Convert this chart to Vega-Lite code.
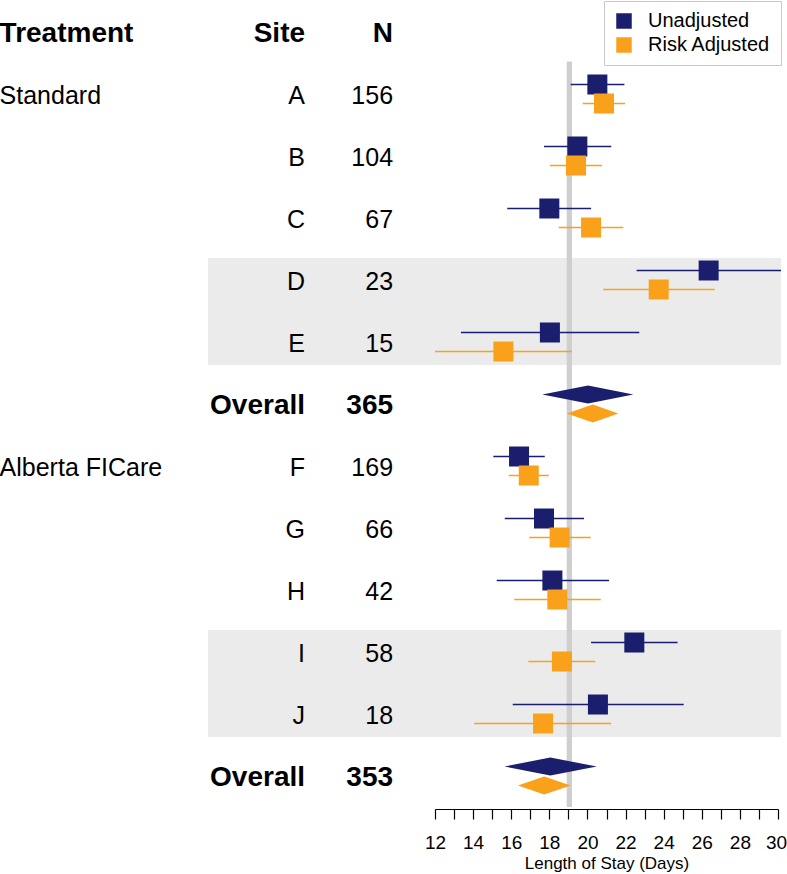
{
  "$schema": "https://vega.github.io/schema/vega-lite/v6.json",
  "width": 343,
  "height": 809,
  "autosize": {"type": "none"},
  "padding": {"left": 435, "top": 0, "right": 9, "bottom": 65},
  "background": "white",
  "config": {
    "view": {"stroke": null},
    "font": "Liberation Sans",
    "axisX": {"tickSize": 10, "tickColor": "black", "tickWidth": 1.2, "domainColor": "black", "domainWidth": 1.2,
              "labelFontSize": 19, "labelFont": "Liberation Sans", "labelColor": "black", "labelPadding": 14,
              "labelFlush": false, "labelOverlap": false, "grid": false,
              "titleFontSize": 17, "titleFont": "Liberation Sans", "titleFontWeight": "normal", "titleColor": "black", "titlePadding": 3}
  },
  "datasets": {
    "table": [
      {"row": 0, "treatment": "Treatment", "site": "Site", "n": "N", "kind": "head"},
      {"row": 1, "treatment": "Standard", "site": "A", "n": "156", "kind": "site"},
      {"row": 2, "treatment": "", "site": "B", "n": "104", "kind": "site"},
      {"row": 3, "treatment": "", "site": "C", "n": "67", "kind": "site"},
      {"row": 4, "treatment": "", "site": "D", "n": "23", "kind": "site"},
      {"row": 5, "treatment": "", "site": "E", "n": "15", "kind": "site"},
      {"row": 6, "treatment": "", "site": "Overall", "n": "365", "kind": "total"},
      {"row": 7, "treatment": "Alberta FICare", "site": "F", "n": "169", "kind": "site"},
      {"row": 8, "treatment": "", "site": "G", "n": "66", "kind": "site"},
      {"row": 9, "treatment": "", "site": "H", "n": "42", "kind": "site"},
      {"row": 10, "treatment": "", "site": "I", "n": "58", "kind": "site"},
      {"row": 11, "treatment": "", "site": "J", "n": "18", "kind": "site"},
      {"row": 12, "treatment": "", "site": "Overall", "n": "353", "kind": "total"}
    ],
    "est": [
      {"row": 1, "site": "A", "type": "Unadjusted", "est": 20.52, "lo": 19.12, "hi": 21.94},
      {"row": 1, "site": "A", "type": "Risk Adjusted", "est": 20.87, "lo": 19.75, "hi": 21.97},
      {"row": 2, "site": "B", "type": "Unadjusted", "est": 19.47, "lo": 17.72, "hi": 21.25},
      {"row": 2, "site": "B", "type": "Risk Adjusted", "est": 19.40, "lo": 18.03, "hi": 20.76},
      {"row": 3, "site": "C", "type": "Unadjusted", "est": 18.00, "lo": 15.79, "hi": 20.19},
      {"row": 3, "site": "C", "type": "Risk Adjusted", "est": 20.19, "lo": 18.49, "hi": 21.88},
      {"row": 4, "site": "D", "type": "Unadjusted", "est": 26.36, "lo": 22.58, "hi": 30.16},
      {"row": 4, "site": "D", "type": "Risk Adjusted", "est": 23.74, "lo": 20.83, "hi": 26.68},
      {"row": 5, "site": "E", "type": "Unadjusted", "est": 18.03, "lo": 13.36, "hi": 22.72},
      {"row": 5, "site": "E", "type": "Risk Adjusted", "est": 15.59, "lo": 12.00, "hi": 19.17},
      {"row": 7, "site": "F", "type": "Unadjusted", "est": 16.41, "lo": 15.06, "hi": 17.76},
      {"row": 7, "site": "F", "type": "Risk Adjusted", "est": 16.92, "lo": 15.87, "hi": 17.97},
      {"row": 8, "site": "G", "type": "Unadjusted", "est": 17.72, "lo": 15.66, "hi": 19.82},
      {"row": 8, "site": "G", "type": "Risk Adjusted", "est": 18.54, "lo": 16.95, "hi": 20.17},
      {"row": 9, "site": "H", "type": "Unadjusted", "est": 18.16, "lo": 15.24, "hi": 21.13},
      {"row": 9, "site": "H", "type": "Risk Adjusted", "est": 18.42, "lo": 16.16, "hi": 20.70},
      {"row": 10, "site": "I", "type": "Unadjusted", "est": 22.46, "lo": 20.19, "hi": 24.73},
      {"row": 10, "site": "I", "type": "Risk Adjusted", "est": 18.66, "lo": 16.90, "hi": 20.41},
      {"row": 11, "site": "J", "type": "Unadjusted", "est": 20.55, "lo": 16.08, "hi": 25.05},
      {"row": 11, "site": "J", "type": "Risk Adjusted", "est": 17.67, "lo": 14.06, "hi": 21.24}
    ],
    "overall": [
      {"row": 6, "group": "Standard", "type": "Unadjusted", "lo": 17.63, "est": 20.03, "hi": 22.41},
      {"row": 6, "group": "Standard", "type": "Risk Adjusted", "lo": 18.91, "est": 20.28, "hi": 21.62},
      {"row": 12, "group": "Alberta FICare", "type": "Unadjusted", "lo": 15.64, "est": 18.05, "hi": 20.49},
      {"row": 12, "group": "Alberta FICare", "type": "Risk Adjusted", "lo": 16.35, "est": 17.73, "hi": 19.12}
    ],
    "bands": [
      {"from": 4, "to": 5},
      {"from": 10, "to": 11}
    ]
  },
  "layer": [
    {
      "data": {"name": "bands"},
      "mark": {"type": "rect", "color": "#ebebeb", "yOffset": -22, "y2Offset": 23},
      "encoding": {
        "x": {"datum": 0.09, "type": "quantitative",
              "scale": {"domain": [12, 30], "nice": false, "zero": false},
              "axis": {"values": [12, 13, 14, 15, 16, 17, 18, 19, 20, 21, 22, 23, 24, 25, 26, 27, 28, 29, 30], "labelExpr": "datum.value % 2 === 0 ? datum.label : ''", "labelOffset": {"condition": {"test": "datum.value === 30", "value": -2}, "value": 0}, "title": "Length of Stay (Days)"}},
        "x2": {"datum": 30.16},
        "y": {"field": "from", "type": "quantitative", "axis": null,
              "scale": {"domain": [-0.516, 12.532], "reverse": true, "nice": false, "zero": false}},
        "y2": {"field": "to"}
      }
    },
    {
      "data": {"name": "bands"},
      "mark": {"type": "rule", "color": "#cfcfcf", "strokeWidth": 5},
      "encoding": {
        "x": {"datum": 19.05, "type": "quantitative",
              "axis": {"values": [12, 13, 14, 15, 16, 17, 18, 19, 20, 21, 22, 23, 24, 25, 26, 27, 28, 29, 30], "labelExpr": "datum.value % 2 === 0 ? datum.label : ''", "labelOffset": {"condition": {"test": "datum.value === 30", "value": -2}, "value": 0}, "title": "Length of Stay (Days)"}},
        "y": {"datum": 0.48, "type": "quantitative", "axis": null},
        "y2": {"datum": 12.5}
      }
    },
    {
      "data": {"name": "table"},
      "transform": [{"filter": "datum.kind === 'site' && datum.treatment !== ''"}],
      "mark": {"type": "text", "align": "left", "baseline": "middle", "fontSize": 25, "font": "Liberation Sans", "dy": 2, "color": "black"},
      "encoding": {
        "x": {"datum": -10.85, "type": "quantitative",
              "axis": {"values": [12, 13, 14, 15, 16, 17, 18, 19, 20, 21, 22, 23, 24, 25, 26, 27, 28, 29, 30], "labelExpr": "datum.value % 2 === 0 ? datum.label : ''", "labelOffset": {"condition": {"test": "datum.value === 30", "value": -2}, "value": 0}, "title": "Length of Stay (Days)"}},
        "y": {"field": "row", "type": "quantitative", "axis": null},
        "text": {"field": "treatment", "type": "nominal"}
      }
    },
    {
      "data": {"name": "table"},
      "transform": [{"filter": "datum.kind === 'head'"}],
      "mark": {"type": "text", "align": "left", "baseline": "middle", "fontSize": 28, "fontWeight": "bold", "font": "Liberation Sans", "dy": 2, "color": "black"},
      "encoding": {
        "x": {"datum": -10.85, "type": "quantitative",
              "axis": {"values": [12, 13, 14, 15, 16, 17, 18, 19, 20, 21, 22, 23, 24, 25, 26, 27, 28, 29, 30], "labelExpr": "datum.value % 2 === 0 ? datum.label : ''", "labelOffset": {"condition": {"test": "datum.value === 30", "value": -2}, "value": 0}, "title": "Length of Stay (Days)"}},
        "y": {"field": "row", "type": "quantitative", "axis": null},
        "text": {"field": "treatment", "type": "nominal"}
      }
    },
    {
      "data": {"name": "table"},
      "transform": [{"filter": "datum.kind === 'site'"}],
      "mark": {"type": "text", "align": "right", "baseline": "middle", "fontSize": 25, "font": "Liberation Sans", "dy": 2, "color": "black"},
      "encoding": {
        "x": {"datum": 5.18, "type": "quantitative",
              "axis": {"values": [12, 13, 14, 15, 16, 17, 18, 19, 20, 21, 22, 23, 24, 25, 26, 27, 28, 29, 30], "labelExpr": "datum.value % 2 === 0 ? datum.label : ''", "labelOffset": {"condition": {"test": "datum.value === 30", "value": -2}, "value": 0}, "title": "Length of Stay (Days)"}},
        "y": {"field": "row", "type": "quantitative", "axis": null},
        "text": {"field": "site", "type": "nominal"}
      }
    },
    {
      "data": {"name": "table"},
      "transform": [{"filter": "datum.kind !== 'site'"}],
      "mark": {"type": "text", "align": "right", "baseline": "middle", "fontSize": 28, "fontWeight": "bold", "font": "Liberation Sans", "dy": 2, "color": "black"},
      "encoding": {
        "x": {"datum": 5.18, "type": "quantitative",
              "axis": {"values": [12, 13, 14, 15, 16, 17, 18, 19, 20, 21, 22, 23, 24, 25, 26, 27, 28, 29, 30], "labelExpr": "datum.value % 2 === 0 ? datum.label : ''", "labelOffset": {"condition": {"test": "datum.value === 30", "value": -2}, "value": 0}, "title": "Length of Stay (Days)"}},
        "y": {"field": "row", "type": "quantitative", "axis": null},
        "text": {"field": "site", "type": "nominal"}
      }
    },
    {
      "data": {"name": "table"},
      "transform": [{"filter": "datum.kind === 'site'"}],
      "mark": {"type": "text", "align": "right", "baseline": "middle", "fontSize": 25, "font": "Liberation Sans", "dy": 2, "color": "black"},
      "encoding": {
        "x": {"datum": 9.80, "type": "quantitative",
              "axis": {"values": [12, 13, 14, 15, 16, 17, 18, 19, 20, 21, 22, 23, 24, 25, 26, 27, 28, 29, 30], "labelExpr": "datum.value % 2 === 0 ? datum.label : ''", "labelOffset": {"condition": {"test": "datum.value === 30", "value": -2}, "value": 0}, "title": "Length of Stay (Days)"}},
        "y": {"field": "row", "type": "quantitative", "axis": null},
        "text": {"field": "n", "type": "nominal"}
      }
    },
    {
      "data": {"name": "table"},
      "transform": [{"filter": "datum.kind !== 'site'"}],
      "mark": {"type": "text", "align": "right", "baseline": "middle", "fontSize": 28, "fontWeight": "bold", "font": "Liberation Sans", "dy": 2, "color": "black"},
      "encoding": {
        "x": {"datum": 9.80, "type": "quantitative",
              "axis": {"values": [12, 13, 14, 15, 16, 17, 18, 19, 20, 21, 22, 23, 24, 25, 26, 27, 28, 29, 30], "labelExpr": "datum.value % 2 === 0 ? datum.label : ''", "labelOffset": {"condition": {"test": "datum.value === 30", "value": -2}, "value": 0}, "title": "Length of Stay (Days)"}},
        "y": {"field": "row", "type": "quantitative", "axis": null},
        "text": {"field": "n", "type": "nominal"}
      }
    },
    {
      "data": {"name": "est"},
      "transform": [{"filter": "datum.type === 'Unadjusted'"}],
      "mark": {"type": "rule", "strokeWidth": 1.4, "yOffset": -9.5, "color": "#1a1e6c"},
      "encoding": {
        "x": {"field": "lo", "type": "quantitative",
              "axis": {"values": [12, 13, 14, 15, 16, 17, 18, 19, 20, 21, 22, 23, 24, 25, 26, 27, 28, 29, 30], "labelExpr": "datum.value % 2 === 0 ? datum.label : ''", "labelOffset": {"condition": {"test": "datum.value === 30", "value": -2}, "value": 0}, "title": "Length of Stay (Days)"}},
        "x2": {"field": "hi"},
        "y": {"field": "row", "type": "quantitative", "axis": null}
      }
    },
    {
      "data": {"name": "est"},
      "transform": [{"filter": "datum.type === 'Risk Adjusted'"}],
      "mark": {"type": "rule", "strokeWidth": 1.4, "yOffset": 9.5, "color": "#f9a11b"},
      "encoding": {
        "x": {"field": "lo", "type": "quantitative",
              "axis": {"values": [12, 13, 14, 15, 16, 17, 18, 19, 20, 21, 22, 23, 24, 25, 26, 27, 28, 29, 30], "labelExpr": "datum.value % 2 === 0 ? datum.label : ''", "labelOffset": {"condition": {"test": "datum.value === 30", "value": -2}, "value": 0}, "title": "Length of Stay (Days)"}},
        "x2": {"field": "hi"},
        "y": {"field": "row", "type": "quantitative", "axis": null}
      }
    },
    {
      "data": {"name": "est"},
      "transform": [{"filter": "datum.type === 'Unadjusted'"}],
      "mark": {"type": "point", "shape": "square", "filled": true, "size": 400, "opacity": 1, "strokeWidth": 0, "yOffset": -9.5},
      "encoding": {
        "x": {"field": "est", "type": "quantitative",
              "axis": {"values": [12, 13, 14, 15, 16, 17, 18, 19, 20, 21, 22, 23, 24, 25, 26, 27, 28, 29, 30], "labelExpr": "datum.value % 2 === 0 ? datum.label : ''", "labelOffset": {"condition": {"test": "datum.value === 30", "value": -2}, "value": 0}, "title": "Length of Stay (Days)"}},
        "y": {"field": "row", "type": "quantitative", "axis": null},
        "color": {"field": "type", "type": "nominal",
                  "scale": {"domain": ["Unadjusted", "Risk Adjusted"], "range": ["#1a1e6c", "#f9a11b"]},
                  "legend": {"orient": "none", "legendX": 169, "legendY": 1, "title": null,
                             "symbolType": "square", "symbolSize": 240, "symbolOpacity": 1, "symbolStrokeWidth": 0,
                             "labelFontSize": 20, "labelFont": "Liberation Sans", "labelColor": "black",
                             "padding": 10, "strokeColor": "#c8c8c8", "rowPadding": 4,
                             "symbolOffset": 0, "labelOffset": 14}}
      }
    },
    {
      "data": {"name": "est"},
      "transform": [{"filter": "datum.type === 'Risk Adjusted'"}],
      "mark": {"type": "point", "shape": "square", "filled": true, "size": 400, "opacity": 1, "strokeWidth": 0, "yOffset": 9.5},
      "encoding": {
        "x": {"field": "est", "type": "quantitative",
              "axis": {"values": [12, 13, 14, 15, 16, 17, 18, 19, 20, 21, 22, 23, 24, 25, 26, 27, 28, 29, 30], "labelExpr": "datum.value % 2 === 0 ? datum.label : ''", "labelOffset": {"condition": {"test": "datum.value === 30", "value": -2}, "value": 0}, "title": "Length of Stay (Days)"}},
        "y": {"field": "row", "type": "quantitative", "axis": null},
        "color": {"field": "type", "type": "nominal"}
      }
    },
    {
      "data": {"name": "overall"},
      "transform": [{"filter": "datum.type === 'Unadjusted'"}, {"fold": ["lo", "est", "hi"], "as": ["k", "xval"]}],
      "mark": {"type": "area", "orient": "vertical", "opacity": 1, "color": "#1a1e6c",
               "yOffset": {"expr": "datum.k === 'est' ? -18.5 : -9.5"},
               "y2Offset": {"expr": "datum.k === 'est' ? -0.5 : -9.5"}},
      "encoding": {
        "x": {"field": "xval", "type": "quantitative",
              "axis": {"values": [12, 13, 14, 15, 16, 17, 18, 19, 20, 21, 22, 23, 24, 25, 26, 27, 28, 29, 30], "labelExpr": "datum.value % 2 === 0 ? datum.label : ''", "labelOffset": {"condition": {"test": "datum.value === 30", "value": -2}, "value": 0}, "title": "Length of Stay (Days)"}},
        "y": {"field": "row", "type": "quantitative", "axis": null},
        "y2": {"field": "row"},
        "detail": {"field": "group", "type": "nominal"}
      }
    },
    {
      "data": {"name": "overall"},
      "transform": [{"filter": "datum.type === 'Risk Adjusted'"}, {"fold": ["lo", "est", "hi"], "as": ["k", "xval"]}],
      "mark": {"type": "area", "orient": "vertical", "opacity": 1, "color": "#f9a11b",
               "yOffset": {"expr": "datum.k === 'est' ? 0.5 : 9.5"},
               "y2Offset": {"expr": "datum.k === 'est' ? 18.5 : 9.5"}},
      "encoding": {
        "x": {"field": "xval", "type": "quantitative",
              "axis": {"values": [12, 13, 14, 15, 16, 17, 18, 19, 20, 21, 22, 23, 24, 25, 26, 27, 28, 29, 30], "labelExpr": "datum.value % 2 === 0 ? datum.label : ''", "labelOffset": {"condition": {"test": "datum.value === 30", "value": -2}, "value": 0}, "title": "Length of Stay (Days)"}},
        "y": {"field": "row", "type": "quantitative", "axis": null},
        "y2": {"field": "row"},
        "detail": {"field": "group", "type": "nominal"}
      }
    }
  ]
}
